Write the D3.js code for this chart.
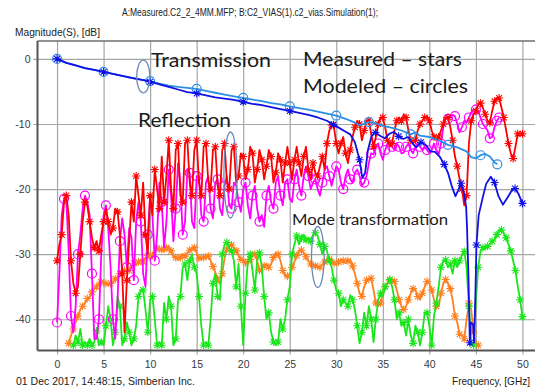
<!DOCTYPE html>
<html><head><meta charset="utf-8">
<script src="https://cdn.jsdelivr.net/npm/d3@7"></script>
<style>html,body{margin:0;padding:0;background:#fff}svg{display:block}</style>
</head><body>
<svg id="chart" width="536" height="392"></svg>
<script>
// ---- axis ticks ----
const xTicks = [0, 5, 10, 15, 20, 25, 30, 35, 40, 45, 50];
const yTicks = [0, -10, -20, -30, -40];

// ---- transmission (irregular frequency grid, GHz / dB) ----
const transMeasFreq = [0,1,2,3,4,5,6,7,8,9,10,11,12,13,14,15,16,17,18,19,20,21,22,23,24,25,26,27,28,29,
  29.7,30.3,31,31.5,32,32.5,32.8,33.1,33.4,33.8,34.2,34.7,35.2,35.7,36.2,36.7,37.2,37.7,38.2,38.6,
  39.1,39.6,40.1,40.6,41.1,41.6,42.0,42.4,42.8,43.1,43.4,43.7,43.95,44.05,44.2,44.35,44.45,44.7,44.8,44.95,
  45.06,45.3,45.7,46.1,46.6,47.0,47.4,47.9,48.4,48.9,49.2,49.6,50];
const transMeasDb = [0,-0.6,-1.0,-1.4,-1.7,-2.0,-2.3,-2.6,-2.9,-3.2,-3.5,-3.9,-4.3,-4.7,-5.1,-5.3,-5.6,-5.9,-6.1,-6.3,
  -6.6,-6.9,-7.1,-7.4,-7.7,-8.0,-8.3,-8.6,-9.0,-9.5,
  -10.1,-10.6,-11.2,-11.6,-12.8,-15.5,-18.3,-17.5,-14,-11.8,
  -11.3,-11.8,-12.2,-11.5,-11.2,-11.9,-12.3,-12.0,-13.0,-13.6,
  -12.8,-13.2,-14.2,-14.3,-15,-16.2,-17.5,-19.5,-21.1,-20.2,
  -19.1,-20.5,-22.7,-26,-33.4,-43.6,-40.5,-40.8,-43.6,-36,
  -28.6,-24,-21.5,-19.2,-18.1,-19.0,-21.0,-22.4,-21.3,-20.1,
  -19.9,-20.8,-22.2];
const transModFreq = [0,1,2,3,4,5,6,7,8,9,10,11,12,13,14,15,16,17,18,19,20,21,22,23,24,25,26,27,28,29,30,31,32,
  32.5,33,33.5,34,35,36,37,38,38.5,39,40,41,42,43,44,44.5,45,45.5,46,46.5,47,47.3];
const transModDb = [0,-0.6,-1.0,-1.4,-1.7,-2.0,-2.3,-2.6,-2.9,-3.2,-3.4,-3.8,-4.1,-4.3,-4.45,-4.6,-4.9,-5.2,-5.5,-5.75,
  -6.0,-6.25,-6.5,-6.8,-7.0,-7.3,-7.55,-7.8,-8.1,-8.4,-8.7,-9.2,-9.8,
  -10.2,-10.0,-9.7,-9.8,-10.3,-10.6,-11.0,-11.6,-11.3,-11.8,-12.0,-12.5,-13.2,-13.6,-14.2,
  -15.1,-15.3,-14.8,-14.6,-15.0,-15.9,-16.2];

// ---- reflection and mode transformation (0.25 GHz grid) ----
const gridStep = 0.25;
const reflMeasStart = 0;
const reflMeasDb = [
  -31,-28.5,-27,-22,  -21,-24,-31,-34.5,  -36,-35,-30,-25,  -22,-22.5,-25,-27.5,
  -29,-28,-29.5,-27,  -25,-23,-25,-27,  -26,-23,-23.5,-27,  -33,-42,-34,-28,
  -22,-25,-18,-21,  -24,-19,-27,-30,  -21,-24,-17,-20,  -23,-15,-22,-18,
  -12.5,-20,-23,-14,  -13,-21,-22,-13,  -12.5,-19,-21,-14,  -12.5,-19,-21,-13.5,
  -13,-19,-20,-14,  -13.5,-19.5,-21,-14,  -13,-19,-20,-14,  -13.5,-19,-18,-14.5,
  -15,-18.5,-17,-13.5,  -14.5,-19,-17,-14,  -15.5,-18.5,-16.5,-14,  -15,-19,-17.5,-14.5,
  -15.5,-19,-16,-13.5,  -16,-18.5,-15.5,-13.5,  -16,-18,-15,-13.5,  -17,-18.5,-16,-17.5,
  -18,-16.5,-15,-17,  -13,-11,-10.2,-10.5,  -13,-14.5,-13,-12,  -14.5,-16,-14,-12,
  -10.5,-9.5,-10,-12.5,  -11,-9.5,-9.5,-11.5,  -13.5,-12,-10,-9,  -9,-10.5,-12.5,-13.5,
  -13,-11,-9.5,-9,  -9.5,-8.5,-9,-11,  -12.5,-13,-12.5,-11,  -10,-9.5,-9,-8.8,
  -9.5,-11,-12,-12.5,  -12,-11,-10,-9,  -9,-10.5,-12.5,-15,  -16.5,-18.5,-20,-22.5,
  -21,-13,-9.5,-8.5,  -8,-7,-6.8,-7.5,  -8.5,-9.5,-9.8,-8,  -6.5,-6,-6,-7.5,
  -9,-11,-13,-14.5,  -15.3,-13.5,-11.5,-11.5,  -11.5];
const reflModStart = 0;
const reflModDb = [
  -40.5,-33,-24,-21.5,  -22,-29.5,-39.5,-42,  -38,-30,-27,-23,  -21,-22,-24,-33,
  -43,-43,-40,-30,  -24,-22.5,-26,-32,  -40,-43,-37,-28,  -24.5,-27,-32,-26,
  -27.5,-34,-25,-22,  -25,-33,-35,-27,  -21,-24,-31,-27,  -19,-22,-29,-25,
  -17,-21,-28,-23,  -16,-19,-27,-25,  -17,-17.5,-25,-26,  -18,-18,-24,-25,
  -19,-18,-23,-24.5,  -19,-18.5,-23,-24,  -19.5,-18,-22.5,-23,  -19,-19.5,-22,-23.5,
  -20,-19,-22.5,-24.5,  -21,-19.5,-23,-25,  -24,-25.8,-21,-19.5,  -22,-23,-19,-18,
  -21,-22.5,-19,-18.5,  -21.5,-22,-18.5,-17,  -19.5,-21,-18,-16.5,  -18,-20,-19,-18.5,
  -20,-21,-19,-17,  -16.5,-18,-19.5,-18,  -16.5,-17,-19,-20,  -18,-17,-18.5,-19,
  -17.5,-17,-18,-19.5,  -19,-18,-16,-14.5,  -14.7,-13.5,-13,-14.5,  -15.5,-14,-13,-12.8,
  -13.5,-14,-13,-13.5,  -14.5,-14.4,-13.5,-13,  -14,-14.5,-13.5,-13,  -13.5,-14,-13.5,-14,
  -14.5,-14,-13,-14,  -14.7,-13,-10.5,-9,  -9.2,-8.8,-8.6,-8.8,  -10,-11.3,-10.5,-9.5,
  -9.8,-9,-8.2,-7.8,  -7.8,-8,-9,-10,  -10.5,-11,-12.2,-12,  -10.5,-9.5,-9];
const modeMeasStart = 1.75;
const modeMeasDb = [
  -44,
  -42.5,-43.5,-41.5,-44,  -43.5,-44,-43,-44,  -43.5,-41.8,-44,-43.5,  -44,-41,-38,-40,
  -44,-42,-36.5,-38,  -44,-43,-40.5,-42,  -44,-43,-41,-36.5,  -35.5,-35.5,-38.5,-42,
  -37,-36.5,-40,-44,  -43.5,-44,-37.5,-40,  -36.5,-38,-44,-43,  -37,-36.5,-32,-31.5,
  -34,-31,-30,-32,  -33,-36.5,-41,-44,  -43.5,-44,-40,-34.5,  -33,-36.5,-37,-30,
  -28.5,-28.2,-29,-29.5,  -31,-35,-31.5,-38,  -44,-36,-31,-30,  -32.5,-35.5,-31,-29.8,
  -32,-36.5,-40,-39,  -42,-43.5,-44,-43.5,  -40,-41.5,-40,-37,  -35,-30,-28.5,-27.2,
  -28.5,-27.5,-27,-27.8,  -27.5,-28,-27,-26.7,  -27.2,-28.5,-30,-28.8,  -29.5,-31,-32,-34,
  -35.5,-36,-38,-37,  -37.5,-38,-36.3,-37,  -38.5,-41,-43.7,-42,  -39,-41,-38,-40,
  -43.5,-40,-37,-36,  -36.5,-35,-34.5,-33.9,  -35,-37,-40,-39,  -41,-40.5,-42.5,-40,
  -42.5,-43.7,-41,-42,  -44,-42,-39,-39,  -41,-44,-39.5,-37.5,  -35,-32,-31,-30.9,
  -32,-31.5,-33,-31,  -32,-31,-30.2,-29.6,  -32,-38,-43.5,-44,  -37,-32,-29.5,-29,
  -29.2,-28.8,-28.5,-28,  -27.8,-27,-26.3,-26.3,  -26.8,-27.5,-28.5,-29.5,  -31,-32.5,-35,-37,
  -39.6];
const modeModStart = 1.25;
const modeModDb = [
  -43.7,-42.5,-41.5,
  -40.5,-39.5,-38.5,-38,  -37.5,-36.8,-36.6,-35.8,  -35.3,-35,-34.5,-34.3,  -34.2,-34.5,-34.8,-34.5,
  -34.3,-33.8,-33.6,-33,  -32.7,-32.5,-32.4,-32.5,  -31.8,-31.4,-31.6,-31.2,  -30.8,-31.2,-30.5,-30.2,
  -30.8,-30.2,-29.5,-29.1,  -29.5,-29.3,-29.6,-29,  -28.8,-29.5,-30.3,-30.5,  -30.9,-30.5,-30,-30.3,
  -29.8,-29.4,-29.1,-29,  -29.8,-30.6,-30.8,-30.5,  -30.6,-30.3,-31,-31.9,  -32.8,-33.8,-34.6,-33,
  -30.5,-29.2,-28.8,-28.6,  -29,-29.5,-30.2,-30.8,  -31,-31.3,-31.5,-30.8,  -30.2,-30,-31,-32.5,
  -32.2,-31.8,-31.5,-32,  -31.5,-30.5,-29.8,-30,  -31,-32.5,-33.3,-33.4,  -33,-32,-31.2,-30.2,
  -29.5,-29.4,-29.8,-30.4,  -31,-31.5,-31.7,-31.8,  -32,-32,-31.6,-31.2,  -30.9,-30.8,-31,-31.4,
  -31.6,-31.2,-30.8,-31,  -31.4,-31,-30.9,-31.8,  -33,-34.5,-36,-36.5,  -35,-34,-33.8,-33.7,
  -35.5,-37.5,-38,-37.5,  -36,-35,-34.5,-34,  -33.9,-34.2,-35.5,-37,  -38,-38.5,-38,-37,
  -36,-35.3,-35.5,-36.5,  -37,-36,-35,-34.2,  -34.5,-35.5,-37,-38,  -38,-36,-34.5,-33.9,
  -34.5,-35.3,-37,-39.5,  -40.5,-42.3,-42.5,-43,  -40,-37.5,-38.5,-42,
  -43.5,-44];

// ---- build point lists ----
const pairs = (fs, vs) => vs.map((v, i) => ({ f: fs[i], v }));
const onGrid = (start, vs) => vs.map((v, i) => ({ f: start + i * gridStep, v }));

const series = [
  { pts: onGrid(modeModStart, modeModDb),   color: "#ff7f1e", marker: "star",   every: 2 },
  { pts: onGrid(modeMeasStart, modeMeasDb), color: "#19e619", marker: "star",   every: 2 },
  { pts: onGrid(reflModStart, reflModDb),   color: "#ff00ff", marker: "circle", every: 3 },
  { pts: onGrid(reflMeasStart, reflMeasDb), color: "#ff0000", marker: "star",   every: 2 },
  { pts: pairs(transModFreq, transModDb),   color: "#2b8fe6", marker: "circle", every: 5 },
  { pts: pairs(transMeasFreq, transMeasDb), color: "#1010e8", marker: "star",   every: 5 }
];

// ---- scales ----
const svg = d3.select("#chart");
svg.append("rect").attr("width", 536).attr("height", 392).attr("fill", "#fff");

const x = d3.scaleLinear().domain([-2.1, 51.35]).range([37.5, 535]);
const y = d3.scaleLinear().domain([2.75, -44.8]).range([41, 350.5]);
const [xL, xR] = x.range();
const [yT, yB] = y.range();

// ---- grid via axes ----
const gx = svg.append("g").attr("transform", `translate(0,${yB + 4})`)
  .call(d3.axisBottom(x).tickValues(xTicks).tickSize(-(yB - yT + 4)).tickPadding(6).tickFormat(d => String(d)));
const gy = svg.append("g").attr("transform", `translate(${xL - 4},0)`)
  .call(d3.axisLeft(y).tickValues(yTicks).tickSize(-(xR - xL + 4)).tickPadding(3).tickFormat(d => String(d)));
[gx, gy].forEach(g => {
  g.select(".domain").remove();
  g.selectAll(".tick line").attr("stroke", "#a6a6a6").attr("stroke-width", 1.2);
  g.selectAll(".tick text").attr("fill", "#3a3a3a").style("font-family", "'Liberation Sans', Arial, sans-serif").style("font-size", "10.5px");
});

// ---- plot frame ----
svg.append("line").attr("x1", xL).attr("x2", xR).attr("y1", yT).attr("y2", yT).attr("stroke", "#6e6e6e").attr("stroke-width", 1.5);
svg.append("line").attr("x1", xL).attr("x2", xL).attr("y1", yT).attr("y2", yB).attr("stroke", "#555").attr("stroke-width", 2);
svg.append("line").attr("x1", xL).attr("x2", xR).attr("y1", yB).attr("y2", yB).attr("stroke", "#555").attr("stroke-width", 2);

// ---- series ----
svg.append("clipPath").attr("id", "plotClip").append("rect")
  .attr("x", xL + 1).attr("y", yT + 1).attr("width", xR - xL - 1).attr("height", yB - yT - 2);
const plot = svg.append("g").attr("clip-path", "url(#plotClip)");
const line = d3.line().x(d => x(d.f)).y(d => y(d.v));
const starPath = "M-4,0L4,0M0,-4L0,4M-2.9,-2.9L2.9,2.9M-2.9,2.9L2.9,-2.9";

series.forEach(s => {
  plot.append("path").datum(s.pts).attr("d", line)
    .attr("fill", "none").attr("stroke", s.color).attr("stroke-width", 1.8).attr("stroke-linejoin", "round");
  const marks = s.pts.filter((d, i) => i % s.every === 0 || i === s.pts.length - 1);
  const g = plot.append("g");
  if (s.marker === "circle") {
    g.selectAll("circle").data(marks).join("circle")
      .attr("cx", d => x(d.f)).attr("cy", d => y(d.v)).attr("r", 4.5)
      .attr("fill", "none").attr("stroke", s.color).attr("stroke-width", 1.2);
  } else {
    g.selectAll("path").data(marks).join("path")
      .attr("transform", d => `translate(${x(d.f)},${y(d.v)})`).attr("d", starPath)
      .attr("fill", "none").attr("stroke", s.color).attr("stroke-width", 1.1);
  }
});

// ---- headers and footers ----
const small = "'Liberation Sans', Arial, sans-serif";
svg.append("text").attr("x", 122).attr("y", 16).attr("textLength", 256).attr("lengthAdjust", "spacingAndGlyphs")
  .style("font-family", small).style("font-size", "10.5px").attr("fill", "#222")
  .text("A:Measured.C2_2_4MM.MFP; B:C2_VIAS(1).c2_vias.Simulation(1);");
svg.append("text").attr("x", 15).attr("y", 36).attr("textLength", 85).attr("lengthAdjust", "spacingAndGlyphs")
  .style("font-family", small).style("font-size", "10.5px").attr("fill", "#222")
  .text("Magnitude(S), [dB]");
svg.append("text").attr("x", 16).attr("y", 385).attr("textLength", 179).attr("lengthAdjust", "spacingAndGlyphs")
  .style("font-family", small).style("font-size", "10.5px").attr("fill", "#222")
  .text("01 Dec 2017, 14:48:15, Simberian Inc.");
svg.append("text").attr("x", 452).attr("y", 385).attr("textLength", 78).attr("lengthAdjust", "spacingAndGlyphs")
  .style("font-family", small).style("font-size", "10.5px").attr("fill", "#222")
  .text("Frequency, [GHz]");

// ---- annotations ----
const big = "Lato, 'Open Sans', sans-serif";
const notes = [
  { t: "Transmission",        x: 151, y: 67,  w: 120, s: 19 },
  { t: "Reflection",          x: 138, y: 127, w: 93,  s: 19 },
  { t: "Measured \u2013 stars",  x: 303, y: 66,  w: 159, s: 19 },
  { t: "Modeled \u2013 circles", x: 303, y: 93,  w: 165, s: 19 },
  { t: "Mode transformation", x: 292, y: 225, w: 156, s: 15.5 }
];
notes.forEach(n => {
  svg.append("text").attr("x", n.x).attr("y", n.y).attr("textLength", n.w).attr("lengthAdjust", "spacingAndGlyphs")
    .style("font-family", big).style("font-size", n.s + "px").attr("fill", "#1a1a1a").text(n.t);
});
const rings = [
  { cx: 143.3, cy: 76.5, rx: 6.6, ry: 16.3 },
  { cx: 230.5, cy: 175,  rx: 6.6, ry: 43 },
  { cx: 317.8, cy: 257,  rx: 6.3, ry: 30.5 }
];
svg.selectAll("ellipse.ring").data(rings).join("ellipse").attr("class", "ring")
  .attr("cx", d => d.cx).attr("cy", d => d.cy).attr("rx", d => d.rx).attr("ry", d => d.ry)
  .attr("fill", "none").attr("stroke", "#6a8ab4").attr("stroke-width", 1.3);
</script>
</body></html>
